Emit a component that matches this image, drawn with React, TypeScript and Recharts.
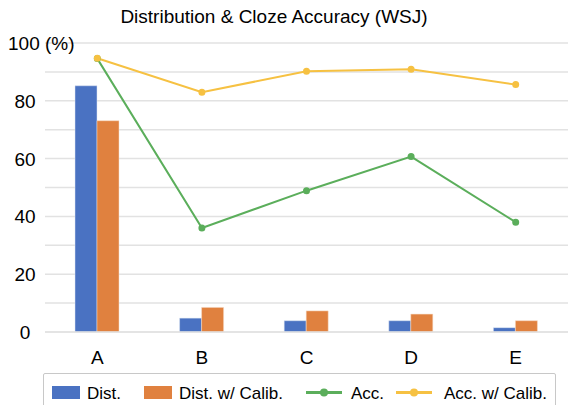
import React from "react";
import { ComposedChart, Bar, Line, XAxis, YAxis, CartesianGrid } from "recharts";

const categories = ["A", "B", "C", "D", "E"];
const dist = [85.2, 4.8, 3.9, 3.9, 1.5];
const distCalib = [73.1, 8.5, 7.3, 6.2, 3.9];
const acc = [94.6, 36.0, 48.9, 60.7, 38.0];
const accCalib = [94.7, 83.0, 90.2, 90.9, 85.6];
const yTicks = [0, 10, 20, 30, 40, 50, 60, 70, 80, 90, 100];

const data = categories.map((name, i) => ({
  name,
  dist: dist[i],
  distCalib: distCalib[i],
  acc: acc[i],
  accCalib: accCalib[i],
}));

const BLUE = "#4A72C2";
const ORANGE = "#E0813F";
const GREEN = "#5BAE5B";
const YELLOW = "#F6C142";
const FONT = "'Liberation Sans', Arial, sans-serif";

document.body.style.margin = "0";

const YTick = (props: any) => {
  const { y, payload } = props;
  const v = payload.value;
  if (v % 20 !== 0) return null;
  if (v === 100) {
    return (
      <text x={8} y={y + 7} textAnchor="start" fontSize={19} fontFamily={FONT} fill="#000">
        100 (%)
      </text>
    );
  }
  return (
    <text x={25} y={y + 7} textAnchor="middle" fontSize={19} fontFamily={FONT} fill="#000">
      {v}
    </text>
  );
};

const XTick = (props: any) => {
  const { x, payload } = props;
  return (
    <text x={x} y={364} textAnchor="middle" fontSize={19} fontFamily={FONT} fill="#000">
      {payload.value}
    </text>
  );
};

const legendItems = [
  { label: "Dist.", color: BLUE, kind: "rect", x: 8, tx: 43 },
  { label: "Dist. w/ Calib.", color: ORANGE, kind: "rect", x: 100, tx: 135 },
  { label: "Acc.", color: GREEN, kind: "line", x: 262, tx: 307 },
  { label: "Acc. w/ Calib.", color: YELLOW, kind: "line", x: 352, tx: 400 },
];

export default function App() {
  return (
    <div style={{ position: "relative", width: 568, height: 405, overflow: "hidden", background: "#fff" }}>
      <div
        style={{
          position: "absolute",
          left: 0,
          width: 548,
          top: 6,
          textAlign: "center",
          fontFamily: FONT,
          fontSize: 19,
          color: "#000",
        }}
      >
        Distribution &amp; Cloze Accuracy (WSJ)
      </div>
      <ComposedChart
        width={568}
        height={405}
        data={data}
        margin={{ top: 43, right: 0, left: 0, bottom: 0 }}
        barGap={0}
      >
        <CartesianGrid vertical={false} stroke="#e2e2e2" strokeWidth={1.5} />
        <XAxis
          dataKey="name"
          height={73}
          tickLine={false}
          axisLine={{ stroke: "#e2e2e2", strokeWidth: 1.5 }}
          tick={<XTick />}
        />
        <YAxis
          width={45}
          domain={[0, 100]}
          ticks={yTicks}
          tickLine={false}
          axisLine={false}
          tick={<YTick />}
        />
        <Bar dataKey="dist" fill={BLUE} barSize={22} stroke="#dfe6f3" strokeWidth={0.5} isAnimationActive={false} />
        <Bar dataKey="distCalib" fill={ORANGE} barSize={22} stroke="#f6dcc8" strokeWidth={0.5} isAnimationActive={false} />
        <Line
          dataKey="acc"
          stroke={GREEN}
          strokeWidth={2}
          dot={{ r: 2.5, fill: GREEN, stroke: GREEN }}
          isAnimationActive={false}
        />
        <Line
          dataKey="accCalib"
          stroke={YELLOW}
          strokeWidth={2}
          dot={{ r: 2.5, fill: YELLOW, stroke: YELLOW }}
          isAnimationActive={false}
        />
      </ComposedChart>
      <div
        style={{
          position: "absolute",
          left: 43,
          top: 373,
          width: 513,
          height: 40,
          border: "1.5px solid #c8c8c8",
          boxSizing: "border-box",
          borderRadius: 2,
        }}
      >
        <svg width={510} height={36} style={{ position: "absolute", left: 0, top: 0 }}>
          {legendItems.map((it) => (
            <g key={it.label}>
              {it.kind === "rect" ? (
                <rect x={it.x} y={12} width={28} height={13} fill={it.color} />
              ) : (
                <g>
                  <line x1={it.x} x2={it.x + 36} y1={18.5} y2={18.5} stroke={it.color} strokeWidth={3} />
                  <circle cx={it.x + 18} cy={18.5} r={4} fill={it.color} />
                </g>
              )}
              <text x={it.tx} y={24.5} fontSize={17} fontFamily={FONT} fill="#000">
                {it.label}
              </text>
            </g>
          ))}
        </svg>
      </div>
    </div>
  );
}
